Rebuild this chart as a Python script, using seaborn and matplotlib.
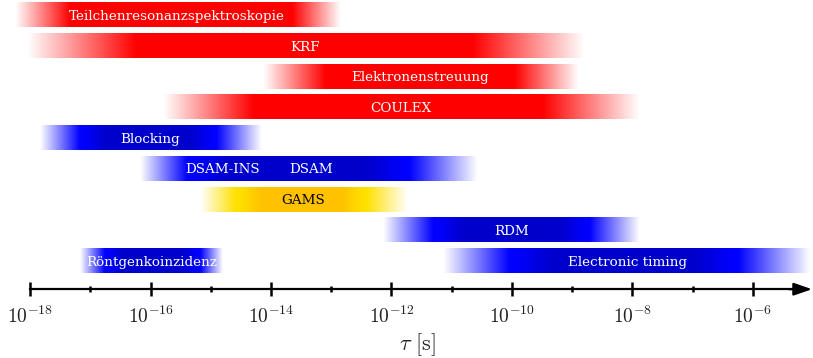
import numpy as np
import pandas as pd
import matplotlib
matplotlib.use("Agg")
import matplotlib.pyplot as plt
import seaborn as sns

# Lifetime ranges covered by each method, as log10(tau / s)
methods = ["Teilchenresonanzspektroskopie", "KRF", "Elektronenstreuung", "COULEX",
           "Blocking", "DSAM", "GAMS", "RDM", "Röntgenkoinzidenz", "Electronic timing"]
rows = [0, 1, 2, 3, 4, 5, 6, 7, 8, 8]
log_tau_min = [-18.25, -18.05, -14.13, -15.79, -17.83, -16.17, -15.18, -12.14, -17.17, -11.15]
log_tau_max = [-12.85, -8.79, -8.90, -7.88, -14.15, -10.56, -11.73, -7.88, -14.81, -5.05]
palette_key = ["red", "red", "red", "red", "blue", "blue", "yellow", "blue", "blue", "blue"]

# Text written on the bars and where it sits along the axis
label_text = ["Teilchenresonanzspektroskopie", "KRF", "Elektronenstreuung", "COULEX",
              "Blocking", "DSAM-INS", "DSAM", "GAMS", "RDM", "Röntgenkoinzidenz",
              "Electronic timing"]
label_row = [0, 1, 2, 3, 4, 5, 5, 6, 7, 8, 8]
label_pos = [-15.57, -13.43, -11.53, -11.84, -16.0, -14.8, -13.34, -13.46, -10.0, -15.98, -8.09]
label_color = ["white"] * 7 + ["black"] + ["white"] * 3

# Axis ticks (exponents)
major_exp = [-18, -16, -14, -12, -10, -8, -6]
minor_exp = [-17, -15, -13, -11, -9, -7]

# Style: length of the soft fade at each end of a bar (in decades)
fade_left = [0.91, 1.8, 1.03, 1.5, 0.66, 0.78, 0.6, 0.83, 0.41, 1.1]
fade_right = [0.8, 1.85, 1.06, 1.6, 0.75, 1.13, 0.68, 0.83, 0.37, 1.2]
shades = {
    "red": ((1.0, 0.0, 0.0), (1.0, 0.0, 0.0)),
    "blue": ((0.0, 0.0, 1.0), (0.0, 0.0, 0.80)),
    "yellow": ((1.0, 0.88, 0.0), (1.0, 0.76, 0.0)),
}

sns.set_theme(style="white")
plt.rcParams["mathtext.fontset"] = "cm"
plt.rcParams["font.family"] = ["DejaVu Serif", "DejaVu Sans"]

fig = plt.figure(figsize=(8.13, 3.58), dpi=100)
ax = fig.add_axes([0, 0, 1, 1])

df = pd.DataFrame({
    "method": methods,
    "row": rows,
    "start": log_tau_min,
    "span": np.array(log_tau_max) - np.array(log_tau_min),
})
df["lane"] = df.groupby("row").cumcount()

# One barplot call per lane so that bars sharing a row stay separate
order = []
for lane, sub in df.groupby("lane"):
    sub = sub.sort_values("row")
    order.extend(sub.index.tolist())
    sns.barplot(data=sub, x="span", y="row", orient="y", native_scale=True,
                left=sub["start"].to_numpy(), width=0.8, errorbar=None,
                color="0.5", ax=ax)

# Replace the flat bars with horizontally shaded ones
def smoothstep(t):
    t = np.clip(t, 0, 1)
    return t * t * (3 - 2 * t)

for patch, i in zip(list(ax.patches), order):
    x0, y0 = patch.get_x(), patch.get_y()
    w, h = patch.get_width(), patch.get_height()
    xs = np.linspace(0, w, 600)
    fl, fr = fade_left[i], fade_right[i]
    alpha = np.clip(xs / fl, 0, 1) * np.clip((w - xs) / fr, 0, 1)
    u = (xs - fl) / max(w - fl - fr, 1e-6)
    depth = smoothstep(np.minimum(u, 1 - u) / 0.22)
    bright, dark = (np.array(c) for c in shades[palette_key[i]])
    rgb = bright[None, :] + (dark - bright)[None, :] * depth[:, None]
    img = np.concatenate([rgb, alpha[:, None]], axis=1)[None, :, :]
    ax.imshow(img, extent=[x0, x0 + w, y0 + h, y0], aspect="auto",
              interpolation="bilinear", zorder=2)
    patch.set_visible(False)

for txt, r, pos, col in zip(label_text, label_row, label_pos, label_color):
    ax.text(pos, r + 0.16, txt, ha="center", va="baseline", color=col,
            fontsize=9.7, family="DejaVu Serif", zorder=3)

axis_y = 8.93
ax.set_xlim(-18.498, -5.004)
ax.set_ylim(11.17, -0.489)
ax.set_xlabel("")
ax.set_ylabel("")
ax.tick_params(left=False, labelleft=False)

for side in ["top", "right", "left"]:
    ax.spines[side].set_visible(False)
ax.spines["bottom"].set_position(("data", axis_y))
ax.spines["bottom"].set_bounds(-18, -5.2)
ax.spines["bottom"].set_linewidth(1.6)
ax.spines["bottom"].set_color("black")

ax.set_xticks(major_exp, labels=[f"$10^{{{e}}}$" for e in major_exp])
ax.set_xticks(minor_exp, minor=True)
ax.tick_params(axis="x", which="major", direction="inout", length=9.5, width=1.8,
               color="black", labelsize=14, pad=7.5, bottom=True, labelcolor="#222222")
ax.tick_params(axis="x", which="minor", direction="inout", length=4.5, width=1.8,
               color="black", bottom=True)

ax.annotate("", xy=(-5.02, axis_y), xytext=(-5.4, axis_y),
            arrowprops=dict(arrowstyle="-|>,head_length=1.1,head_width=0.38",
                            mutation_scale=10, color="black", lw=1.6,
                            shrinkA=0, shrinkB=0))

fig.text(417 / 813, 1 - 345 / 358, r"$\tau\ [\mathrm{s}]$", ha="center", va="center",
         fontsize=16, color="#222222")

fig.savefig("out.png", dpi=100)
